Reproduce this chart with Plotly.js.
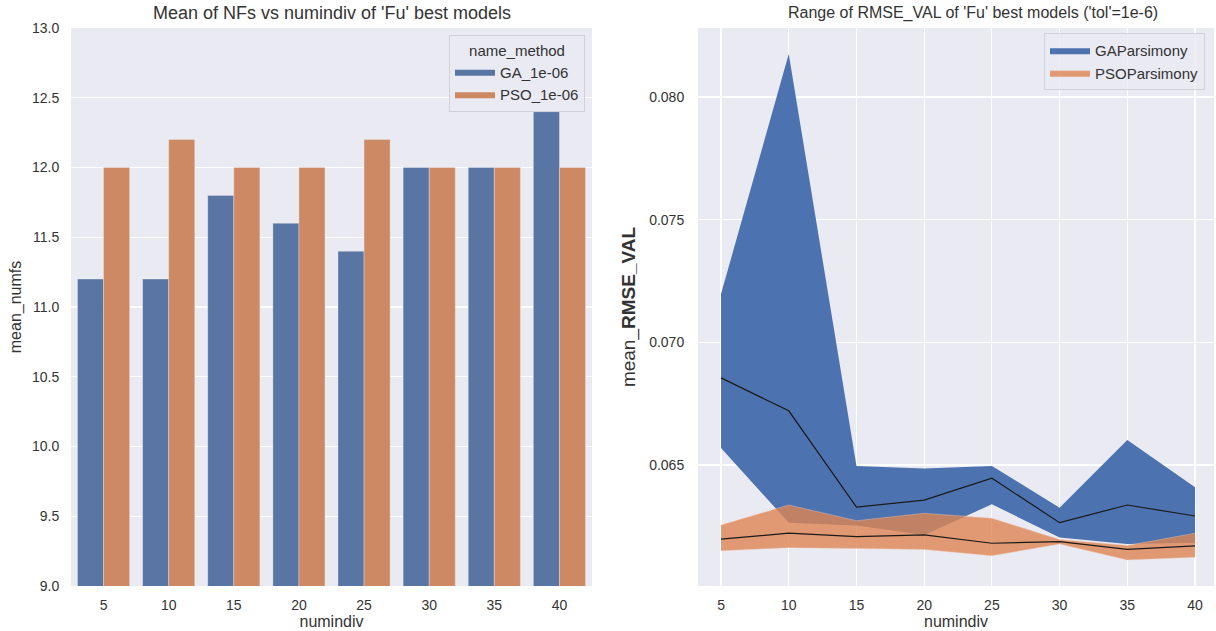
<!DOCTYPE html>
<html>
<head>
<meta charset="utf-8">
<script src="https://cdn.plot.ly/plotly-3.0.1.min.js"></script>
<style>html,body{margin:0;padding:0;background:#fff;}#chart{width:1216px;height:631px;}</style>
</head>
<body>
<div id="chart"></div>
<script>
// ---- Left panel data: mean number of features ----
const numindivCats = ['5', '10', '15', '20', '25', '30', '35', '40'];
const gaMeanNumfs = [11.2, 11.2, 11.8, 11.6, 11.4, 12.0, 12.0, 12.4];
const psoMeanNumfs = [12.0, 12.2, 12.0, 12.0, 12.2, 12.0, 12.0, 12.0];

// ---- Right panel data: RMSE_VAL ranges ----
const numindiv = [5, 10, 15, 20, 25, 30, 35, 40];
const gaRmseMax  = [0.07197, 0.08175, 0.06496, 0.06486, 0.06496, 0.06326, 0.06602, 0.06409];
const gaRmseMin  = [0.06569, 0.06265, 0.06253, 0.06215, 0.06340, 0.06204, 0.06178, 0.06183];
const gaRmseMean = [0.06855, 0.06721, 0.06328, 0.06357, 0.06446, 0.06265, 0.06337, 0.06292];
const psoRmseMax  = [0.06255, 0.06337, 0.06273, 0.06303, 0.06283, 0.06196, 0.06172, 0.06222];
const psoRmseMin  = [0.06150, 0.06163, 0.06160, 0.06156, 0.06130, 0.06178, 0.06113, 0.06124];
const psoRmseMean = [0.06198, 0.06222, 0.06208, 0.06215, 0.06181, 0.06188, 0.06156, 0.06170];

const FONT = 'Liberation Sans, Arial, sans-serif';
const TXT = '#333333';
const GA_BAR = '#5875A4', PSO_BAR = '#CC8963';

const traces = [
  {type: 'bar', x: numindivCats, y: gaMeanNumfs, name: 'GA_1e-06', showlegend: false,
   marker: {color: GA_BAR, line: {color: 'rgba(234,234,242,0.6)', width: 0.6}},
   xaxis: 'x', yaxis: 'y', hoverinfo: 'x+y'},
  {type: 'bar', x: numindivCats, y: psoMeanNumfs, name: 'PSO_1e-06', showlegend: false,
   marker: {color: PSO_BAR, line: {color: 'rgba(234,234,242,0.6)', width: 0.6}},
   xaxis: 'x', yaxis: 'y', hoverinfo: 'x+y'},
  // legend-only entries (rectangular patches like the reference)
  {type: 'scatter', mode: 'lines', x: [null], y: [null], name: 'GA_1e-06', fill: 'toself',
   fillcolor: GA_BAR, line: {width: 0, color: GA_BAR}, xaxis: 'x', yaxis: 'y', legend: 'legend'},
  {type: 'scatter', mode: 'lines', x: [null], y: [null], name: 'PSO_1e-06', fill: 'toself',
   fillcolor: PSO_BAR, line: {width: 0, color: PSO_BAR}, xaxis: 'x', yaxis: 'y', legend: 'legend'},

  {type: 'scatter', mode: 'lines', x: numindiv, y: gaRmseMin, line: {width: 0, color: '#4C72B0'},
   showlegend: false, xaxis: 'x2', yaxis: 'y2', legend: 'legend2', legendgroup: 'ga'},
  {type: 'scatter', mode: 'lines', x: numindiv, y: gaRmseMax, fill: 'tonexty',
   fillcolor: '#4C72B0', line: {width: 0, color: '#4C72B0'}, name: 'GAParsimony',
   xaxis: 'x2', yaxis: 'y2', legend: 'legend2', legendgroup: 'ga'},
  {type: 'scatter', mode: 'lines', x: numindiv, y: psoRmseMin, line: {width: 0.6, color: 'rgba(240,200,180,0.7)'},
   showlegend: false, xaxis: 'x2', yaxis: 'y2', legend: 'legend2', legendgroup: 'pso'},
  {type: 'scatter', mode: 'lines', x: numindiv, y: psoRmseMax, fill: 'tonexty',
   fillcolor: 'rgba(221,132,82,0.8)', line: {width: 0.6, color: 'rgba(240,200,180,0.7)'}, name: 'PSOParsimony',
   xaxis: 'x2', yaxis: 'y2', legend: 'legend2', legendgroup: 'pso'},
  {type: 'scatter', mode: 'lines', x: numindiv, y: gaRmseMean, line: {width: 1.2, color: '#1a1a1a'},
   showlegend: false, xaxis: 'x2', yaxis: 'y2'},
  {type: 'scatter', mode: 'lines', x: numindiv, y: psoRmseMean, line: {width: 1.2, color: '#1a1a1a'},
   showlegend: false, xaxis: 'x2', yaxis: 'y2'}
];

const axisCommon = {
  showline: false, zeroline: false, gridcolor: '#ffffff', gridwidth: 1.2,
  tickfont: {family: FONT, size: 14, color: TXT},
  ticks: 'outside', ticklen: 8, tickcolor: 'rgba(0,0,0,0)'
};

const layout = {
  width: 1216, height: 631,
  margin: {l: 0, r: 0, t: 28, b: 45},
  paper_bgcolor: '#ffffff',
  plot_bgcolor: '#EAEAF2',
  font: {family: FONT, color: TXT},
  barmode: 'group', bargap: 0.2, bargroupgap: 0,
  showlegend: true,
  xaxis: Object.assign({}, axisCommon, {
    domain: [71/1216, 592/1216], anchor: 'y', type: 'category',
    range: [-0.5, 7.5], showgrid: false, ticklen: 6,
    title: {text: 'numindiv', font: {family: FONT, size: 16, color: TXT}, standoff: 2}
  }),
  yaxis: Object.assign({}, axisCommon, {
    domain: [0, 1], anchor: 'x', range: [9, 13], dtick: 0.5, tickformat: '.1f',
    title: {text: 'mean_numfs', font: {family: FONT, size: 16, color: TXT}, standoff: 6}
  }),
  xaxis2: Object.assign({}, axisCommon, {
    domain: [698/1216, 1214/1216], anchor: 'y2', range: [3.30, 41.40],
    tickvals: numindiv, ticktext: numindivCats, showgrid: true, ticklen: 6,
    title: {text: 'numindiv', font: {family: FONT, size: 16, color: TXT}, standoff: 2}
  }),
  yaxis2: Object.assign({}, axisCommon, {
    domain: [0, 1], anchor: 'x2', range: [0.060068, 0.082813],
    tick0: 0, dtick: 0.005, tickformat: '.3f', ticklen: 10,
    title: {text: 'mean_<b>RMSE_VAL</b>', font: {family: FONT, size: 19, color: TXT}, standoff: 8}
  }),
  legend: {
    x: 585/1216, xanchor: 'right', y: 1 - 7/558, yanchor: 'top',
    bgcolor: 'rgba(234,234,242,0.8)', bordercolor: '#d0d0d8', borderwidth: 1,
    font: {family: FONT, size: 15, color: TXT},
    title: {text: 'name_method', font: {family: FONT, size: 15, color: TXT}, side: 'top center'},
    itemwidth: 40, tracegroupgap: 0
  },
  legend2: {
    x: 1205/1216, xanchor: 'right', y: 1 - 5/558, yanchor: 'top',
    bgcolor: 'rgba(234,234,242,0.8)', bordercolor: '#d0d0d8', borderwidth: 1,
    font: {family: FONT, size: 15, color: TXT}, traceorder: 'normal',
    itemwidth: 40, tracegroupgap: 0
  },
  annotations: [
    {text: "Mean of NFs vs numindiv of 'Fu' best models", xref: 'paper', yref: 'paper',
     x: 332 / 1216, y: 1, yshift: 3, xanchor: 'center', yanchor: 'bottom', showarrow: false,
     font: {family: FONT, size: 18, color: TXT}},
    {text: "Range of RMSE_VAL of 'Fu' best models ('tol'=1e-6)", xref: 'paper', yref: 'paper',
     x: 973 / 1216, y: 1, yshift: 4, xanchor: 'center', yanchor: 'bottom', showarrow: false,
     font: {family: FONT, size: 16, color: TXT}}
  ]
};

Plotly.newPlot('chart', traces, layout, {displayModeBar: false, staticPlot: true});
</script>
</body>
</html>
